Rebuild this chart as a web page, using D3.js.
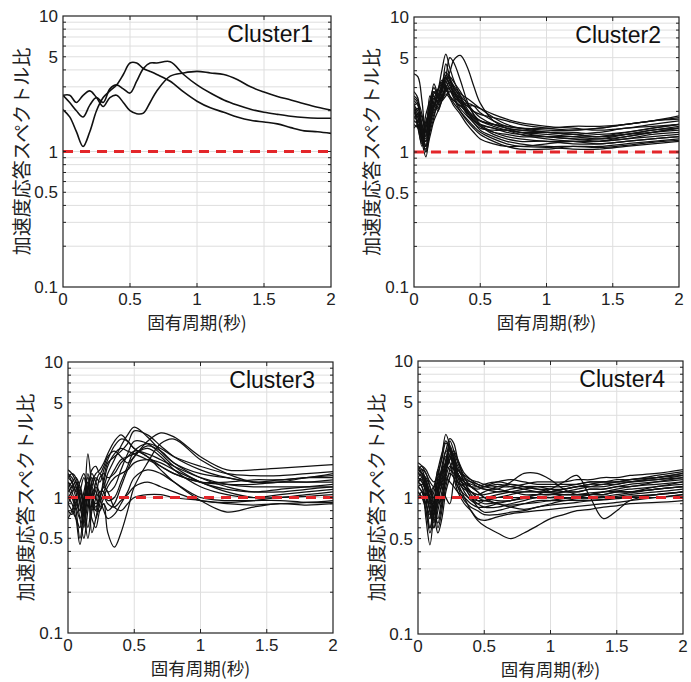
<!DOCTYPE html>
<html><head><meta charset="utf-8">
<script src="https://cdn.jsdelivr.net/npm/d3@7"></script>
<style>body{margin:0;background:#fff}</style></head>
<body>
<svg id="c" width="691" height="682"></svg>
<script>
const clusterNames = ["Cluster1", "Cluster2", "Cluster3", "Cluster4"];
const xTicks = [0, 0.5, 1, 1.5, 2];
const yTicks = [0.1, 0.5, 1, 5, 10];
const xTitle = "固有周期(秒)";
const yTitle = "加速度応答スペクトル比";
const refLevel = 1;

const periods1 = [0,0.05,0.1,0.15,0.2,0.25,0.3,0.35,0.4,0.45,0.5,0.55,0.6,0.65,0.7,0.8,0.9,1.0,1.1,1.2,1.3,1.4,1.5,1.6,1.7,1.8,1.9,2.0];
const cluster1 = [
 [2.04,1.8,1.4,1.09,1.4,2.0,2.5,2.8,3.1,3.7,4.5,4.5,4.1,3.9,3.7,3.3,2.75,2.35,2.1,1.95,1.8,1.7,1.65,1.6,1.5,1.42,1.4,1.36],
 [2.6,2.3,2.0,1.8,2.2,2.5,2.3,2.9,3.1,2.9,2.7,3.3,4.1,4.5,4.5,4.6,3.7,3.1,2.7,2.4,2.2,2.05,1.95,1.88,1.82,1.78,1.76,1.76],
 [2.6,2.6,2.3,2.6,2.8,2.5,2.15,2.5,2.6,2.3,2.0,1.9,1.92,2.3,2.8,3.6,3.8,3.9,3.8,3.7,3.4,3.0,2.75,2.55,2.4,2.25,2.12,2.02]
];

const periods23 = [0,0.03,0.06,0.09,0.12,0.15,0.18,0.21,0.24,0.27,0.3,0.35,0.4,0.45,0.5,0.6,0.7,0.8,1.0,1.2,1.4,1.6,1.8,2.0];
const cluster2 = [
 [3.8,3.6,2.4,1.3,2.6,2.2,2.8,4.0,5.3,4.2,3.4,2.6,2.1,1.8,1.6,1.5,1.45,1.4,1.35,1.3,1.25,1.3,1.4,1.5],
 [2.2,2.0,1.4,1.0,1.8,2.5,2.3,3.0,3.6,5.0,4.6,3.4,2.4,1.9,1.6,1.4,1.3,1.25,1.2,1.2,1.15,1.2,1.25,1.3],
 [2.0,1.8,1.2,0.92,1.5,2.2,2.6,2.8,3.4,3.9,4.8,5.2,4.3,3.1,2.3,1.7,1.5,1.45,1.4,1.35,1.3,1.35,1.4,1.45],
 [2.5,2.3,1.2,1.7,2.0,3.2,2.7,2.5,3.0,3.3,3.0,2.5,2.0,1.7,1.6,1.5,1.4,1.35,1.3,1.25,1.2,1.25,1.3,1.35],
 [1.8,1.9,1.5,1.1,1.6,2.4,2.9,3.2,3.6,3.2,2.8,2.3,1.9,1.65,1.45,1.3,1.2,1.15,1.1,1.1,1.08,1.12,1.18,1.22],
 [2.1,1.5,1.15,1.6,1.9,2.8,2.5,2.9,4.5,3.6,2.9,2.4,2.0,1.8,1.7,1.6,1.55,1.5,1.45,1.45,1.5,1.6,1.7,1.8],
 [1.7,1.6,1.3,1.2,1.5,1.9,2.2,2.6,2.8,3.0,2.8,2.5,2.2,2.0,1.9,1.8,1.7,1.6,1.5,1.45,1.5,1.6,1.7,1.85],
 [2.4,2.2,1.6,1.3,2.2,2.6,2.0,2.4,2.9,3.4,3.1,2.7,2.5,2.3,2.1,1.8,1.6,1.5,1.4,1.35,1.4,1.5,1.55,1.6],
 [1.9,2.1,1.8,1.4,1.7,2.1,2.6,3.1,3.3,2.9,2.5,2.0,1.7,1.5,1.35,1.2,1.1,1.05,1.05,1.1,1.1,1.15,1.2,1.25],
 [2.6,2.4,1.3,1.9,2.4,3.0,2.6,2.4,2.6,2.8,2.7,2.4,2.2,2.2,2.1,1.9,1.75,1.65,1.55,1.5,1.45,1.5,1.6,1.7],
 [1.6,1.5,1.2,1.05,1.4,1.8,2.4,2.9,3.1,2.6,2.3,2.0,1.75,1.55,1.4,1.25,1.15,1.1,1.15,1.2,1.2,1.25,1.35,1.4],
 [2.0,2.1,1.6,1.25,1.8,2.3,2.1,2.7,3.7,3.4,2.6,2.1,1.85,1.65,1.5,1.45,1.45,1.4,1.4,1.4,1.35,1.4,1.5,1.6],
 [2.3,1.6,1.1,1.5,2.0,2.7,2.9,3.4,3.0,2.6,2.4,2.2,2.0,1.7,1.55,1.35,1.25,1.2,1.2,1.15,1.15,1.2,1.25,1.3],
 [1.8,1.7,1.4,1.1,1.6,2.0,2.3,2.5,3.2,3.6,3.3,2.8,2.3,1.9,1.7,1.55,1.45,1.35,1.25,1.2,1.2,1.3,1.4,1.5],
 [2.2,2.3,1.9,1.4,2.1,2.5,2.4,3.0,3.5,3.1,2.7,2.3,2.05,1.85,1.7,1.6,1.5,1.4,1.3,1.25,1.25,1.35,1.45,1.55],
 [1.5,1.6,1.3,1.0,1.3,1.7,2.0,2.4,2.7,2.5,2.2,1.9,1.6,1.4,1.25,1.15,1.1,1.1,1.08,1.05,1.05,1.1,1.15,1.2],
 [2.8,2.5,1.3,1.6,2.3,2.8,2.6,3.2,3.9,3.5,3.0,2.6,2.3,2.0,1.8,1.6,1.5,1.45,1.4,1.35,1.3,1.35,1.45,1.5],
 [2.0,1.8,1.4,1.1,1.7,2.2,2.8,3.3,2.9,2.6,2.4,2.2,1.95,1.75,1.55,1.4,1.35,1.3,1.3,1.3,1.3,1.4,1.5,1.6],
 [2.1,1.9,1.5,1.2,1.9,2.6,2.4,2.6,3.0,2.9,2.6,2.3,2.3,2.2,1.95,1.7,1.55,1.5,1.5,1.55,1.55,1.6,1.7,1.75]
];

const cluster3 = [
 [1.5,1.4,1.2,0.9,0.6,1.2,1.5,1.3,1.1,1.2,1.5,1.9,2.4,2.9,3.3,2.8,2.2,1.8,1.5,1.4,1.3,1.35,1.4,1.5],
 [1.2,1.0,0.8,0.5,0.8,2.1,1.2,0.8,0.8,0.9,0.55,0.43,0.55,0.8,1.2,1.8,2.5,2.7,1.9,1.5,1.3,1.3,1.4,1.45],
 [0.9,0.8,0.7,0.6,0.9,1.3,0.55,0.7,1.0,1.2,1.1,0.85,0.8,0.9,1.0,1.05,1.05,1.0,0.95,0.9,0.88,0.9,0.92,0.95],
 [1.3,1.2,1.0,0.7,0.5,0.8,1.2,1.4,1.3,1.6,1.9,2.4,2.7,2.6,2.3,2.0,1.6,1.3,0.95,0.78,0.85,0.9,0.88,0.9],
 [1.6,1.5,1.3,1.0,0.8,1.1,1.6,1.7,1.5,1.7,2.0,2.2,2.0,1.8,2.0,2.6,3.0,2.8,2.0,1.6,1.6,1.65,1.7,1.75],
 [1.0,0.9,0.7,0.45,0.7,1.5,1.0,0.7,0.9,1.1,1.3,1.6,1.9,2.0,2.1,2.3,2.0,1.6,1.2,1.05,1.0,1.05,1.1,1.15],
 [1.4,1.3,1.1,0.8,1.1,1.4,1.0,0.9,1.0,1.3,1.7,2.1,2.3,2.2,2.1,1.9,1.7,1.5,1.3,1.3,1.35,1.35,1.4,1.4],
 [0.8,0.75,0.9,1.1,1.4,1.0,0.7,0.6,0.8,0.9,0.8,0.9,1.2,1.6,2.0,2.4,2.2,1.8,1.4,1.2,1.1,1.15,1.2,1.25],
 [1.1,1.2,1.3,1.1,0.9,1.2,1.4,1.1,1.0,1.4,1.8,2.0,2.2,2.5,3.1,2.9,2.4,2.0,1.6,1.4,1.3,1.3,1.3,1.35],
 [1.3,1.1,0.9,0.8,1.0,1.3,0.9,0.8,1.1,1.1,0.95,1.0,1.3,1.7,2.2,2.5,2.3,2.0,1.7,1.5,1.45,1.45,1.5,1.55],
 [0.7,0.8,1.0,1.2,0.9,0.6,0.9,1.2,1.0,0.8,0.7,0.75,0.9,1.1,1.4,1.6,1.5,1.3,1.0,0.95,0.95,0.95,0.92,0.92],
 [1.5,1.3,1.1,1.3,1.5,1.1,0.8,1.0,1.4,1.5,1.4,1.5,1.8,2.0,2.2,2.1,1.9,1.7,1.4,1.25,1.2,1.2,1.2,1.2],
 [1.2,1.3,1.4,1.2,0.8,0.5,0.8,1.3,1.5,1.3,1.1,1.2,1.6,2.1,2.6,2.5,2.1,1.7,1.3,1.15,1.1,1.1,1.15,1.2],
 [1.0,1.1,1.2,0.9,0.65,0.9,1.2,1.0,0.85,1.0,1.2,1.4,1.5,1.6,1.8,1.9,1.8,1.6,1.3,1.1,1.0,1.0,1.05,1.1],
 [1.4,1.5,1.4,1.0,0.75,1.0,1.3,1.5,1.6,1.8,2.1,2.6,2.9,2.6,2.3,2.0,1.7,1.5,1.3,1.25,1.25,1.3,1.3,1.3],
 [0.9,1.0,0.85,0.7,0.9,1.2,1.0,0.85,0.95,1.0,0.9,0.85,0.95,1.05,1.2,1.3,1.2,1.1,0.95,0.92,0.95,1.0,1.02,1.05]
];

const periods4 = [0,0.03,0.06,0.09,0.12,0.15,0.18,0.21,0.24,0.27,0.3,0.35,0.4,0.45,0.5,0.6,0.7,0.8,0.9,1.0,1.1,1.2,1.3,1.4,1.5,1.6,1.8,2.0];
const cluster4 = [
 [1.5,1.4,1.0,0.6,0.9,1.4,2.0,2.9,2.4,1.6,1.3,1.2,1.1,1.05,1.05,1.1,1.1,1.05,1.05,1.05,1.1,1.1,1.15,1.15,1.2,1.2,1.3,1.4],
 [1.3,1.2,0.7,0.45,0.8,1.6,1.3,1.8,2.6,2.2,1.5,1.2,1.0,0.9,0.85,0.85,0.9,0.95,1.0,1.0,1.0,1.0,1.05,1.05,1.1,1.1,1.15,1.2],
 [1.7,1.6,1.3,0.9,0.65,1.1,1.7,2.2,2.7,2.5,1.9,1.4,1.2,1.15,1.2,1.3,1.35,1.3,1.25,1.25,1.25,1.25,1.3,1.3,1.35,1.35,1.45,1.55],
 [1.2,1.1,0.9,0.7,1.0,0.6,0.8,1.5,2.0,1.8,1.3,1.0,0.8,0.68,0.62,0.55,0.5,0.55,0.62,0.7,0.75,0.8,0.82,0.85,0.87,0.9,0.92,0.95],
 [1.6,1.5,1.4,1.2,1.0,1.3,1.6,1.8,2.2,2.0,1.6,1.4,1.3,1.2,1.15,1.15,1.3,1.5,1.5,1.35,1.15,1.05,1.05,1.1,1.15,1.2,1.25,1.3],
 [1.4,1.3,1.1,0.8,0.6,0.9,1.3,1.9,2.3,1.9,1.4,1.1,0.95,0.9,0.95,1.0,1.0,1.0,1.0,1.0,1.05,1.05,1.05,1.05,1.1,1.1,1.2,1.25],
 [1.1,1.0,0.8,0.55,0.75,1.2,1.6,2.0,1.8,1.4,1.1,0.9,0.8,0.7,0.68,0.72,0.76,0.78,0.8,0.82,0.84,0.86,0.88,0.9,0.92,0.95,1.0,1.05],
 [1.8,1.7,1.5,1.3,1.2,1.5,1.9,2.5,2.3,1.9,1.6,1.45,1.35,1.3,1.25,1.2,1.2,1.25,1.3,1.3,1.3,1.35,1.35,1.4,1.4,1.45,1.5,1.6],
 [1.3,1.35,1.2,1.0,0.8,1.0,1.2,1.6,1.9,2.1,1.8,1.4,1.2,1.1,1.0,0.95,0.95,1.0,1.05,1.15,1.3,1.45,1.0,0.7,0.8,0.95,1.05,1.1],
 [1.5,1.6,1.5,1.2,0.9,0.7,1.0,1.4,1.7,1.6,1.4,1.25,1.2,1.1,1.0,0.9,0.88,0.9,0.92,0.95,0.98,1.0,1.0,1.02,1.05,1.08,1.15,1.2],
 [1.2,1.1,0.8,0.6,0.7,0.55,0.7,1.1,1.4,1.7,1.5,1.2,1.0,0.85,0.78,0.8,0.85,0.9,0.95,0.95,0.95,0.98,1.0,1.0,1.02,1.05,1.1,1.15],
 [1.6,1.7,1.6,1.4,1.3,1.4,1.5,1.6,1.9,2.2,1.9,1.5,1.35,1.25,1.2,1.25,1.2,1.15,1.1,1.1,1.15,1.2,1.2,1.2,1.25,1.3,1.35,1.45],
 [1.4,1.3,1.2,1.1,1.2,1.1,0.9,1.2,1.6,1.9,1.7,1.3,1.1,1.0,0.95,1.0,1.05,1.1,1.1,1.08,1.05,1.05,1.08,1.1,1.12,1.15,1.2,1.3],
 [1.0,1.1,1.0,0.8,0.6,0.8,1.1,1.5,2.1,1.7,1.2,0.95,0.85,0.8,0.75,0.75,0.78,0.8,0.85,0.88,0.9,0.92,0.95,0.97,1.0,1.02,1.05,1.1],
 [1.7,1.5,1.2,1.0,1.2,1.6,2.1,2.6,2.2,1.8,1.5,1.3,1.2,1.2,1.25,1.3,1.25,1.2,1.15,1.15,1.15,1.2,1.25,1.3,1.3,1.35,1.4,1.5],
 [1.3,1.2,1.0,0.9,1.1,1.3,1.2,1.0,0.9,1.3,1.6,1.3,1.05,0.95,0.9,0.92,0.95,0.98,1.0,1.0,1.0,0.98,0.98,1.0,1.0,1.02,1.05,1.1],
 [1.5,1.45,1.3,1.1,0.9,1.1,1.4,1.7,2.0,1.8,1.5,1.3,1.25,1.2,1.15,1.1,1.15,1.2,1.2,1.15,1.1,1.1,1.15,1.15,1.2,1.25,1.3,1.35],
 [1.2,1.25,1.15,0.95,0.75,0.9,1.0,1.3,1.5,1.4,1.2,1.05,0.98,0.95,0.95,0.9,0.85,0.82,0.85,0.9,0.95,0.95,0.95,0.96,0.98,1.0,1.0,1.05],
 [1.4,1.5,1.35,1.1,1.0,1.2,1.5,2.2,2.0,1.7,1.45,1.35,1.3,1.25,1.2,1.15,1.1,1.1,1.1,1.1,1.15,1.2,1.25,1.25,1.3,1.3,1.35,1.4],
 [1.6,1.5,1.2,0.8,0.7,1.0,1.5,1.7,1.6,1.5,1.3,1.15,1.1,1.05,1.1,1.2,1.25,1.2,1.15,1.1,1.1,1.15,1.2,1.25,1.25,1.3,1.4,1.5],
 [1.1,1.0,0.9,0.75,0.85,1.1,1.3,1.4,1.3,1.2,1.1,1.0,0.9,0.85,0.85,0.9,0.95,1.0,1.05,1.05,1.05,1.05,1.05,1.1,1.1,1.1,1.15,1.2],
 [1.3,1.4,1.3,1.0,0.8,0.65,0.9,1.6,2.4,2.0,1.5,1.2,1.1,1.0,1.0,1.05,1.1,1.15,1.2,1.2,1.2,1.25,1.3,1.3,1.3,1.35,1.4,1.45]
];

const seriesSets = [
 {periods: periods1, curves: cluster1},
 {periods: periods23, curves: cluster2},
 {periods: periods23, curves: cluster3},
 {periods: periods4, curves: cluster4}
];

// layout (pixel boxes for each panel)
const layout = [
 {left:63, right:331, top:16, bottom:287, ylabX:22},
 {left:414, right:679, top:17, bottom:287, ylabX:372},
 {left:68, right:333, top:362, bottom:633, ylabX:26},
 {left:418, right:683, top:361, bottom:634, ylabX:377}
];

const svg = d3.select("#c");
const numFont = "'Liberation Sans', Arial, sans-serif";
const cjkFont = "'Noto Sans CJK JP', 'Noto Sans', sans-serif";

layout.forEach((L, i) => {
  const x = d3.scaleLinear().domain([0, 2]).range([L.left, L.right]);
  const y = d3.scaleLog().domain([0.1, 10]).range([L.bottom, L.top]);
  const g = svg.append("g");
  const clipId = "clip" + i;
  svg.append("clipPath").attr("id", clipId).append("rect")
    .attr("x", L.left).attr("y", L.top).attr("width", L.right - L.left).attr("height", L.bottom - L.top);

  // minor + major log grid
  const gridY = [];
  [0.1, 1].forEach(d => { for (let k = 1; k <= 9; k++) gridY.push(+(d * k).toFixed(2)); });
  g.append("g").selectAll("line").data(gridY.filter(v => v > 0.1 && v < 10)).join("line")
    .attr("x1", L.left).attr("x2", L.right)
    .attr("y1", d => y(d)).attr("y2", d => y(d))
    .attr("stroke", "#dedede").attr("stroke-width", 1);
  g.append("g").selectAll("line").data(xTicks.filter(v => v > 0 && v < 2)).join("line")
    .attr("x1", d => x(d)).attr("x2", d => x(d))
    .attr("y1", L.top).attr("y2", L.bottom)
    .attr("stroke", "#dedede").attr("stroke-width", 1);

  // curves
  const S = seriesSets[i];
  const line = d3.line()
    .x((d, j) => x(S.periods[j]))
    .y(d => y(d))
    .curve(d3.curveCatmullRom.alpha(0.5));
  g.append("g").attr("clip-path", `url(#${clipId})`)
    .selectAll("path").data(S.curves).join("path")
    .attr("d", line)
    .attr("fill", "none").attr("stroke", "#111")
    .attr("stroke-width", i === 0 ? 1.6 : 1.25)
    .attr("stroke-linejoin", "round");

  // red reference line
  g.append("line")
    .attr("x1", x(0)).attr("x2", x(2))
    .attr("y1", y(refLevel)).attr("y2", y(refLevel))
    .attr("stroke", "#e3262a").attr("stroke-width", 3)
    .attr("stroke-dasharray", "10,7");

  // ticks (inward)
  const tk = g.append("g").attr("stroke", "#222").attr("stroke-width", 1);
  gridY.filter(v => v > 0.1 && v < 10).forEach(v => {
    tk.append("line").attr("x1", L.left).attr("x2", L.left + 3).attr("y1", y(v)).attr("y2", y(v));
    tk.append("line").attr("x1", L.right).attr("x2", L.right - 3).attr("y1", y(v)).attr("y2", y(v));
  });
  xTicks.filter(v => v > 0 && v < 2).forEach(v => {
    tk.append("line").attr("x1", x(v)).attr("x2", x(v)).attr("y1", L.bottom).attr("y2", L.bottom - 4);
    tk.append("line").attr("x1", x(v)).attr("x2", x(v)).attr("y1", L.top).attr("y2", L.top + 4);
  });

  // frame
  g.append("rect").attr("x", L.left).attr("y", L.top)
    .attr("width", L.right - L.left).attr("height", L.bottom - L.top)
    .attr("fill", "none").attr("stroke", "#222").attr("stroke-width", 1.2);

  // tick labels
  g.append("g").selectAll("text").data(xTicks).join("text")
    .attr("x", d => x(d)).attr("y", L.bottom + 18)
    .attr("text-anchor", "middle")
    .attr("font-family", numFont).attr("font-size", 17).attr("fill", "#222")
    .text(d => d);
  g.append("g").selectAll("text").data(yTicks).join("text")
    .attr("x", L.left - 5).attr("y", d => y(d))
    .attr("dy", "0.36em")
    .attr("text-anchor", "end")
    .attr("font-family", numFont).attr("font-size", 17).attr("fill", "#222")
    .text(d => d);

  // cluster label
  g.append("text")
    .attr("x", L.right - 18).attr("y", L.top + 26)
    .attr("text-anchor", "end")
    .attr("font-family", numFont).attr("font-size", 23).attr("fill", "#111")
    .text(clusterNames[i]);

  // axis titles
  g.append("text")
    .attr("x", (L.left + L.right) / 2).attr("y", L.bottom + 42)
    .attr("text-anchor", "middle")
    .attr("font-family", cjkFont).attr("font-size", 17.5).attr("fill", "#222")
    .text(xTitle);
  g.append("text")
    .attr("transform", `translate(${L.ylabX},${(L.top + L.bottom) / 2}) rotate(-90)`)
    .attr("dy", "0.35em")
    .attr("text-anchor", "middle")
    .attr("font-family", cjkFont).attr("font-size", 19).attr("fill", "#222")
    .text(yTitle);
});
</script>
</body></html>
